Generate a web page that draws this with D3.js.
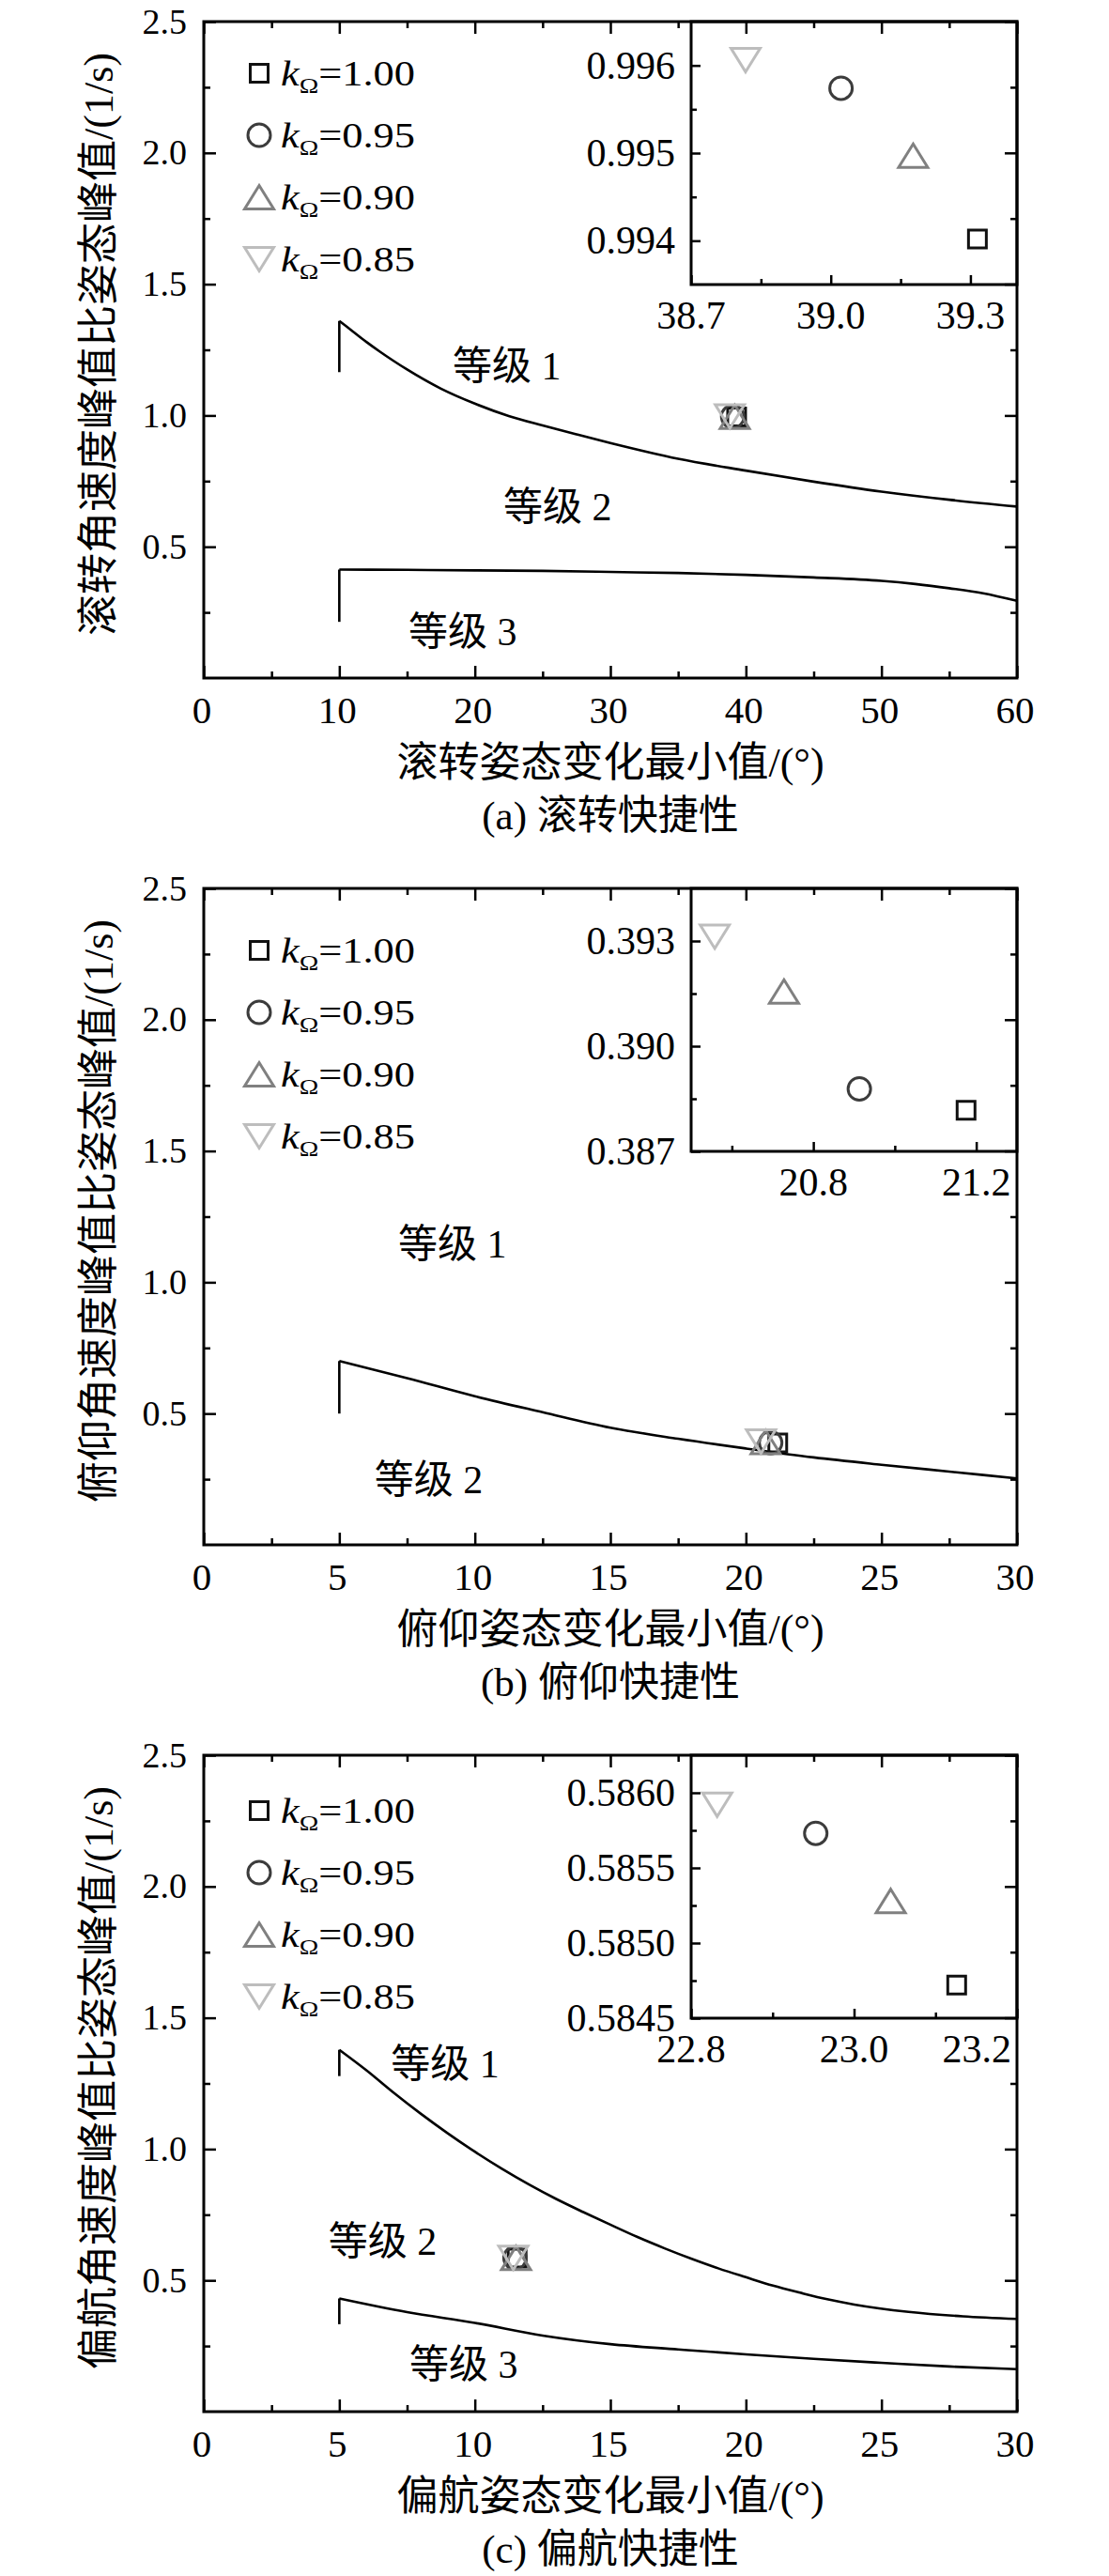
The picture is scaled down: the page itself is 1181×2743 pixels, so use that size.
<!DOCTYPE html>
<html><head><meta charset="utf-8">
<script src="https://cdn.jsdelivr.net/npm/d3@7"></script>
<style>
html,body{margin:0;padding:0;background:#fff;}
svg{display:block;}
text{font-family:'Liberation Serif','Times New Roman','Noto Sans CJK SC',serif;fill:#000;}
</style></head><body>
<svg id="chart" width="1181" height="2743"></svg>
<script>
// ---------------- data ----------------
const seriesLabels = ["1.00", "0.95", "0.90", "0.85"];
const seriesShapes = ["square", "circle", "triangleUp", "triangleDown"];
const seriesColors = ["#111111", "#3c3c3c", "#808080", "#bdbdbd"];

const rollUpperX = [10, 10, 11, 12, 13, 14, 15, 17.5, 20, 22.5, 25, 27.5, 30, 35, 40, 45, 50, 55, 60];
const rollUpperY = [1.165, 1.36, 1.32, 1.28, 1.243, 1.208, 1.175, 1.102, 1.045, 0.998, 0.962, 0.928, 0.895, 0.835, 0.79, 0.748, 0.71, 0.679, 0.653];
const rollLowerX = [10, 10, 15, 20, 25, 30, 35, 40, 45, 50, 52.5, 55, 57.5, 60];
const rollLowerY = [0.214, 0.413, 0.412, 0.41, 0.408, 0.404, 0.4, 0.393, 0.383, 0.37, 0.358, 0.342, 0.323, 0.294];

const pitchBoundX = [5, 5, 7.5, 10, 12.5, 15, 17.5, 20, 22.5, 25, 27.5, 30];
const pitchBoundY = [0.5, 0.70, 0.635, 0.566, 0.505, 0.446, 0.404, 0.367, 0.333, 0.305, 0.279, 0.253];

const yawUpperX = [5, 5, 6, 7, 8, 9, 10, 11, 12, 13, 14, 15, 16, 17, 18, 19, 20, 21, 22, 23, 24, 26, 28, 30];
const yawUpperY = [1.278, 1.378, 1.30, 1.215, 1.135, 1.06, 0.99, 0.925, 0.865, 0.81, 0.76, 0.712, 0.665, 0.622, 0.582, 0.545, 0.512, 0.48, 0.453, 0.428, 0.408, 0.38, 0.363, 0.353];
const yawLowerX = [5, 5, 7.5, 10, 12.5, 15, 17.5, 20, 22.5, 25, 27.5, 30];
const yawLowerY = [0.333, 0.431, 0.379, 0.338, 0.29, 0.257, 0.237, 0.218, 0.201, 0.186, 0.172, 0.162];

const rollPtsX = [39.315, 39.022, 39.177, 38.817];
const rollPtsY = [0.99402, 0.99574, 0.99497, 0.99606];
const pitchPtsX = [21.175, 20.913, 20.728, 20.558];
const pitchPtsY = [0.38817, 0.38878, 0.39156, 0.39312];
const yawPtsX = [23.126, 22.953, 23.045, 22.832];
const yawPtsY = [0.58472, 0.58573, 0.58528, 0.58592];
const yawMainPtsX = [11.56, 11.48, 11.52, 11.42];

// tick labels
const mainYTicks = [0.5, 1.0, 1.5, 2.0, 2.5];
const mainYMinor = [0.25, 0.75, 1.25, 1.75, 2.25];
const rollXTicks = [0, 10, 20, 30, 40, 50, 60];
const rollXMinor = [5, 15, 25, 35, 45, 55];
const pitchXTicks = [0, 5, 10, 15, 20, 25, 30];
const pitchXMinor = [2.5, 7.5, 12.5, 17.5, 22.5, 27.5];
const yawXTicks = [0, 5, 10, 15, 20, 25, 30];
const yawXMinor = [2.5, 7.5, 12.5, 17.5, 22.5, 27.5];
const rollInsetXTicks = [38.7, 39.0, 39.3];
const rollInsetXMinor = [38.85, 39.15];
const rollInsetYTicks = [0.994, 0.995, 0.996];
const rollInsetYMinor = [0.9945, 0.9955];
const pitchInsetXTicks = [20.8, 21.2];
const pitchInsetXMinor = [20.6, 21.0];
const pitchInsetYTicks = [0.387, 0.390, 0.393];
const pitchInsetYMinor = [0.3885, 0.3915];
const yawInsetXTicks = [22.8, 23.0, 23.2];
const yawInsetXMinor = [22.9, 23.1];
const yawInsetYTicks = [0.5845, 0.5850, 0.5855, 0.5860];
const yawInsetYMinor = [0.58475, 0.58525, 0.58575];

const gradeNames = ["等级 1", "等级 2", "等级 3"];

// ---------------- panels ----------------
const panels = [
  {
    caption: "(a) 滚转快捷性", xTitle: "滚转姿态变化最小值/(°)", yTitle: "滚转角速度峰值比姿态峰值/(1/s)",
    xDomain: [0, 60], xTicks: rollXTicks, xMinor: rollXMinor,
    curves: [[rollUpperX, rollUpperY], [rollLowerX, rollLowerY]],
    mainX: rollPtsX, ptsX: rollPtsX, ptsY: rollPtsY,
    inX: [38.7, 39.4], inY: [0.9935, 0.9965],
    inXT: rollInsetXTicks, inXM: rollInsetXMinor, inYT: rollInsetYTicks, inYM: rollInsetYMinor,
    inXF: d3.format(".1f"), inYF: d3.format(".3f"),
    grades: [[18.36, 1.136], [22.1, 0.60], [15.1, 0.125]],
    legendOff: 55
  },
  {
    caption: "(b) 俯仰快捷性", xTitle: "俯仰姿态变化最小值/(°)", yTitle: "俯仰角速度峰值比姿态峰值/(1/s)",
    xDomain: [0, 30], xTicks: pitchXTicks, xMinor: pitchXMinor,
    curves: [[pitchBoundX, pitchBoundY]],
    mainX: pitchPtsX, ptsX: pitchPtsX, ptsY: pitchPtsY,
    inX: [20.5, 21.3], inY: [0.387, 0.3945],
    inXT: pitchInsetXTicks, inXM: pitchInsetXMinor, inYT: pitchInsetYTicks, inYM: pitchInsetYMinor,
    inXF: d3.format(".1f"), inYF: d3.format(".3f"),
    grades: [[7.17, 1.096], [6.3, 0.195]],
    legendOff: 66
  },
  {
    caption: "(c) 偏航快捷性", xTitle: "偏航姿态变化最小值/(°)", yTitle: "偏航角速度峰值比姿态峰值/(1/s)",
    xDomain: [0, 30], xTicks: yawXTicks, xMinor: yawXMinor,
    curves: [[yawUpperX, yawUpperY], [yawLowerX, yawLowerY]],
    mainX: yawMainPtsX, ptsX: yawPtsX, ptsY: yawPtsY,
    inX: [22.8, 23.2], inY: [0.5845, 0.58625],
    inXT: yawInsetXTicks, inXM: yawInsetXMinor, inYT: yawInsetYTicks, inYM: yawInsetYMinor,
    inXF: d3.format(".1f"), inYF: d3.format(".4f"),
    grades: [[6.9, 1.275], [4.6, 0.598], [7.59, 0.129]],
    legendOff: 59
  }
];

// ---------------- drawing ----------------
const svg = d3.select("#chart");
svg.append("rect").attr("width", 1181).attr("height", 2743).attr("fill", "#fff");

const FL = 217, FR = 1083, FH = 699, PANEL_STEP = 923, TOP0 = 23;
const INL = 736, INH = 280;

function markerPath(shape) {
  if (shape === "square") return d3.symbol(d3.symbolSquare, 19 * 19)();
  if (shape === "circle") return d3.symbol(d3.symbolCircle, Math.PI * 12 * 12)();
  if (shape === "triangleUp") return "M0,-12.5L15.5,12.5L-15.5,12.5Z";
  return "M0,12.5L15.5,-12.5L-15.5,-12.5Z";
}

function tickAxis(g, axisFn, scale, values, size, transform) {
  const a = axisFn(scale).tickValues(values).tickSize(-size).tickFormat("");
  const sel = g.append("g").attr("transform", transform).call(a);
  sel.select(".domain").remove();
  sel.selectAll("line").attr("stroke", "#000").attr("stroke-width", 2.5);
  sel.selectAll("text").remove();
}

function drawPoints(g, xs, ys, x, y) {
  seriesShapes.forEach((s, i) => {
    g.append("path")
      .attr("d", markerPath(s))
      .attr("transform", `translate(${x(xs[i])},${y(ys[i])})`)
      .attr("fill", "none")
      .attr("stroke", seriesColors[i])
      .attr("stroke-width", 3);
  });
}

panels.forEach((p, pi) => {
  const T = TOP0 + PANEL_STEP * pi;
  const B = T + FH;
  const g = svg.append("g");
  const x = d3.scaleLinear().domain(p.xDomain).range([FL, FR]);
  const y = d3.scaleLinear().domain([0, 2.5]).range([B, T]);

  // ---- inset ----
  const ix = d3.scaleLinear().domain(p.inX).range([INL, FR]);
  const iy = d3.scaleLinear().domain(p.inY).range([T + INH, T]);
  const ig = g.append("g");
  ig.append("rect").attr("x", INL).attr("y", T).attr("width", FR - INL).attr("height", INH)
    .attr("fill", "#fff").attr("stroke", "#000").attr("stroke-width", 3);
  tickAxis(ig, d3.axisBottom, ix, p.inXT, 10, `translate(0,${T + INH})`);
  tickAxis(ig, d3.axisBottom, ix, p.inXM, 6, `translate(0,${T + INH})`);
  tickAxis(ig, d3.axisLeft, iy, p.inYT, 10, `translate(${INL},0)`);
  tickAxis(ig, d3.axisLeft, iy, p.inYM, 6, `translate(${INL},0)`);
  ig.selectAll(".ixl").data(p.inXT).enter().append("text")
    .attr("x", d => d === p.inX[1] ? ix(d) - 6 : ix(d))
    .attr("y", T + INH + 47)
    .attr("text-anchor", d => d === p.inX[1] ? "end" : "middle")
    .style("font-size", "42px")
    .text(d => p.inXF(d));
  ig.selectAll(".iyl").data(p.inYT).enter().append("text")
    .attr("x", INL - 17)
    .attr("y", d => iy(d) + 14)
    .attr("text-anchor", "end")
    .style("font-size", "42px")
    .text(d => p.inYF(d));
  drawPoints(ig, p.ptsX, p.ptsY, ix, iy);

  // ---- boundary curves ----
  p.curves.forEach(([cx, cy]) => {
    const pts = cx.map((v, i) => [v, cy[i]]);
    g.append("path")
      .attr("d", d3.line().x(d => x(d[0])).y(d => y(d[1]))(pts.slice(0, 2)))
      .attr("fill", "none").attr("stroke", "#000").attr("stroke-width", 2.6);
    g.append("path")
      .attr("d", d3.line().x(d => x(d[0])).y(d => y(d[1])).curve(d3.curveMonotoneX)(pts.slice(1)))
      .attr("fill", "none").attr("stroke", "#000").attr("stroke-width", 2.6)
      .attr("stroke-linejoin", "round");
  });

  // ---- main points ----
  drawPoints(g, p.mainX, p.ptsY, x, y);

  // ---- grade labels ----
  p.grades.forEach((gp, i) => {
    g.append("text").attr("x", x(gp[0])).attr("y", y(gp[1]))
      .style("font-size", "42px").text(gradeNames[i]);
  });

  // ---- legend ----
  seriesLabels.forEach((lab, i) => {
    const cy = T + p.legendOff + 66 * i;
    g.append("path").attr("d", markerPath(seriesShapes[i]))
      .attr("transform", `translate(276,${cy})`)
      .attr("fill", "none").attr("stroke", seriesColors[i]).attr("stroke-width", 3);
    const t = g.append("text").attr("transform", `translate(299,${cy + 13})`).style("font-size", "37px");
    t.append("tspan").style("font-style", "italic").text("k");
    t.append("tspan").attr("dy", 8).style("font-size", "23px").text("Ω");
    t.append("tspan").attr("dy", -8).text("=" + lab);
    const w = t.node().getBBox().width;
    t.attr("transform", `translate(299,${cy + 13}) scale(${143 / w},1)`);
  });

  // ---- main frame & ticks ----
  g.append("rect").attr("x", FL).attr("y", T).attr("width", FR - FL).attr("height", FH)
    .attr("fill", "none").attr("stroke", "#000").attr("stroke-width", 3);
  tickAxis(g, d3.axisBottom, x, p.xTicks, 13, `translate(0,${B})`);
  tickAxis(g, d3.axisBottom, x, p.xMinor, 7, `translate(0,${B})`);
  tickAxis(g, d3.axisTop, x, p.xTicks, 13, `translate(0,${T})`);
  tickAxis(g, d3.axisTop, x, p.xMinor, 7, `translate(0,${T})`);
  tickAxis(g, d3.axisLeft, y, mainYTicks, 13, `translate(${FL},0)`);
  tickAxis(g, d3.axisLeft, y, mainYMinor, 7, `translate(${FL},0)`);
  tickAxis(g, d3.axisRight, y, mainYTicks, 13, `translate(${FR},0)`);
  tickAxis(g, d3.axisRight, y, mainYMinor, 7, `translate(${FR},0)`);

  // tick labels
  g.selectAll(".xl").data(p.xTicks).enter().append("text")
    .attr("x", d => x(d) - 2).attr("y", B + 48)
    .attr("text-anchor", "middle").style("font-size", "41px")
    .text(d => d3.format("d")(d));
  g.selectAll(".yl").data(mainYTicks).enter().append("text")
    .attr("x", FL - 18).attr("y", d => y(d) + 12.5)
    .attr("text-anchor", "end").style("font-size", "38px")
    .text(d => d3.format(".1f")(d));

  // titles
  g.append("text").attr("x", (FL + FR) / 2).attr("y", B + 105)
    .attr("text-anchor", "middle").style("font-size", "44px").text(p.xTitle);
  g.append("text").attr("x", (FL + FR) / 2).attr("y", B + 161)
    .attr("text-anchor", "middle").style("font-size", "43px").text(p.caption);
  g.append("text").attr("transform", `translate(120,${(T + B) / 2 - 6}) rotate(-90)`)
    .attr("text-anchor", "middle").style("font-size", "44px").text(p.yTitle);
});
</script>
</body></html>
